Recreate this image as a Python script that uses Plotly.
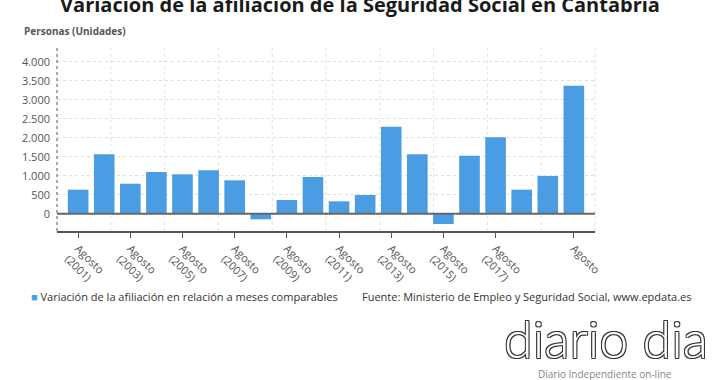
import plotly.graph_objects as go

years = list(range(2001, 2021))
categories = [f"Agosto ({y})" for y in years]
values = [632, 1563, 789, 1097, 1037, 1142, 879, -147, 360, 966,
          326, 492, 2289, 1563, -271, 1526, 2010, 632, 992, 3368]
tick_cats = [categories[i] for i in range(0, 18, 2)] + [categories[19]]
tick_text = [f"Agosto<br>({years[i]})" for i in range(0, 18, 2)] + ["Agosto"]
series_name = "Variación de la afiliación en relación a meses comparables"

BLUE = "#4a9de2"
FONT = "Open Sans"

fig = go.Figure()
fig.add_trace(go.Bar(
    x=categories, y=values, marker_color=BLUE, marker_line_width=0,
    name=series_name, showlegend=False,
))

shapes = []
for i in range(1, 11):
    shapes.append(dict(type="line", xref="x domain", yref="y domain",
                       x0=i / 10, x1=i / 10, y0=0, y1=1,
                       line=dict(color="#e2e2e2", width=1, dash="dot"), layer="below"))
shapes.append(dict(type="line", xref="x domain", yref="y domain",
                   x0=0, x1=0, y0=0, y1=1,
                   line=dict(color="#555555", width=1, dash="dot")))
shapes.append(dict(type="line", xref="x domain", yref="y",
                   x0=0, x1=1, y0=0, y1=0,
                   line=dict(color="#666666", width=2)))

W, H = 720, 380


def px(x):
    return (x - 57) / 538


def py(y):
    return (231 - y) / 186


fig.update_layout(
    width=W, height=H,
    margin=dict(l=57, r=125, t=45, b=149, autoexpand=False),
    paper_bgcolor="white", plot_bgcolor="white",
    font=dict(family=FONT, color="#555555", size=11),
    separators=",.",
    bargap=0.21,
    title=dict(text="<b>Variación de la afiliación de la Seguridad Social en Cantabria</b>",
               x=0.5, xanchor="center", xref="container", y=1 - 5 / H, yanchor="middle",
               yref="container",
               font=dict(family=FONT, size=20, color="#1a1a1a")),
    xaxis=dict(type="category", range=[-0.81, 19.81], tickmode="array",
               tickvals=tick_cats, ticktext=tick_text, tickangle=45,
               ticks="outside", ticklen=5, tickcolor="#555555",
               showline=True, linecolor="#555555", linewidth=2, automargin=False,
               showgrid=False, tickfont=dict(size=11, color="#555555")),
    yaxis=dict(range=[-455, 4440], tickvals=[0, 500, 1000, 1500, 2000, 2500, 3000, 3500, 4000],
               tickformat=",d", showgrid=True, gridcolor="#dddddd", griddash="dot",
               zeroline=False, showline=False, ticks="", ticklabelstandoff=6, automargin=False,
               tickfont=dict(size=11, color="#555555")),
    shapes=shapes,
    annotations=[
        dict(text="<b>Personas (Unidades)</b>", x=px(22), y=py(31),
             xref="paper", yref="paper", xanchor="left", yanchor="middle",
             showarrow=False, font=dict(size=10, color="#555555")),
        dict(text=f"<span style='color:{BLUE}'>■</span> {series_name}",
             x=px(29), y=py(296), xref="paper", yref="paper",
             xanchor="left", yanchor="middle", showarrow=False,
             font=dict(size=11, color="#333333")),
        dict(text="Fuente: Ministerio de Empleo y Seguridad Social, www.epdata.es",
             xref="paper", yref="paper", x=px(360), y=py(296),
             xanchor="left", yanchor="middle", showarrow=False,
             font=dict(size=11, color="#333333")),
        dict(text="diario dia", xref="paper", yref="paper",
             x=px(606), y=py(338), xanchor="center", yanchor="middle",
             showarrow=False,
             font=dict(family="Lato", size=52, color="white", weight=300,
                       shadow="1px 1px 0 #333, -1px -1px 0 #333, 1px -1px 0 #333, -1px 1px 0 #333")),
        dict(text="Diario Independiente on-line", xref="paper", yref="paper",
             x=px(605), y=py(374), xanchor="center", yanchor="middle",
             showarrow=False, font=dict(size=10, color="#888888")),
    ],
)

fig.write_html("out.html", config={"displayModeBar": False},
               post_script="document.body.style.margin='0';")
